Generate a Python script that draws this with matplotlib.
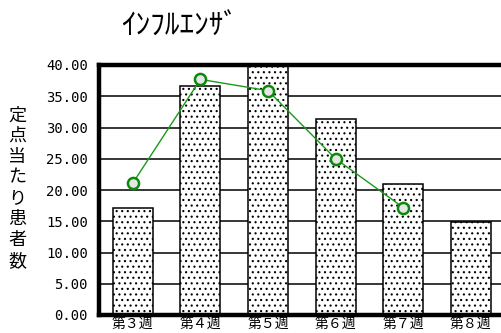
import matplotlib
matplotlib.use("Agg")
import matplotlib.pyplot as plt
import numpy as np

plt.rcParams['font.family'] = ['Noto Sans CJK JP', 'DejaVu Sans']
plt.rcParams['hatch.linewidth'] = 0.8
plt.rcParams['hatch.color'] = '#303030'

# data
weeks = ['第３週', '第４週', '第５週', '第６週', '第７週', '第８週']
this_year = [17.2, 36.6, 41.5, 31.3, 21.0, 14.9]
last_year = [21.1, 37.7, 35.9, 25.0, 17.2]
yticks = [0, 5, 10, 15, 20, 25, 30, 35, 40]
title = 'ｲﾝﾌﾙｴﾝｻﾞ'
ylabel = '定点当たり患者数'

fig = plt.figure(figsize=(5.02, 3.33), dpi=100)
W, H = 502, 333
left, right, top, bottom = 99, 502, 65, 315
ax = fig.add_axes([left / W, (H - bottom) / H, (right - left) / W, (bottom - top) / H])

x = np.arange(len(weeks))
ax.bar(x, this_year, 0.59, facecolor='white', edgecolor='black',
       linewidth=1.1, hatch='...', zorder=2)
ax.plot(np.arange(len(last_year)), last_year, color='#1a9a1a', lw=1.0,
        marker='o', ms=8, mec='#0a8a0a', mew=1.8, mfc='#e6e6e6', zorder=3)

ax.set_ylim(0, 40)
ax.set_xlim(-0.5, (right - left) / 67.6 - 0.5)
ax.set_yticks(yticks)
ax.set_yticklabels(['%.2f' % v for v in yticks], family='DejaVu Sans Mono', fontsize=10)
ax.set_xticks(x)
ax.set_xticklabels(weeks, fontsize=10)
ax.tick_params(length=0)
ax.tick_params(axis='y', pad=8)
ax.tick_params(axis='x', pad=1)
ax.yaxis.grid(True, color='black', lw=1.1, zorder=1)
ax.set_axisbelow(True)

for s in ['left', 'top', 'bottom']:
    ax.spines[s].set_linewidth(3.2)
    ax.spines[s].set_zorder(4)
ax.spines['right'].set_visible(False)

fig.text(180 / W, 1 - 27 / H, title, ha='center', va='center', fontsize=21)
fig.text(17 / W, 1 - 188 / H, '\n'.join(ylabel), ha='center', va='center',
         fontsize=13, linespacing=1.2)

fig.savefig('out.png', dpi=100)
